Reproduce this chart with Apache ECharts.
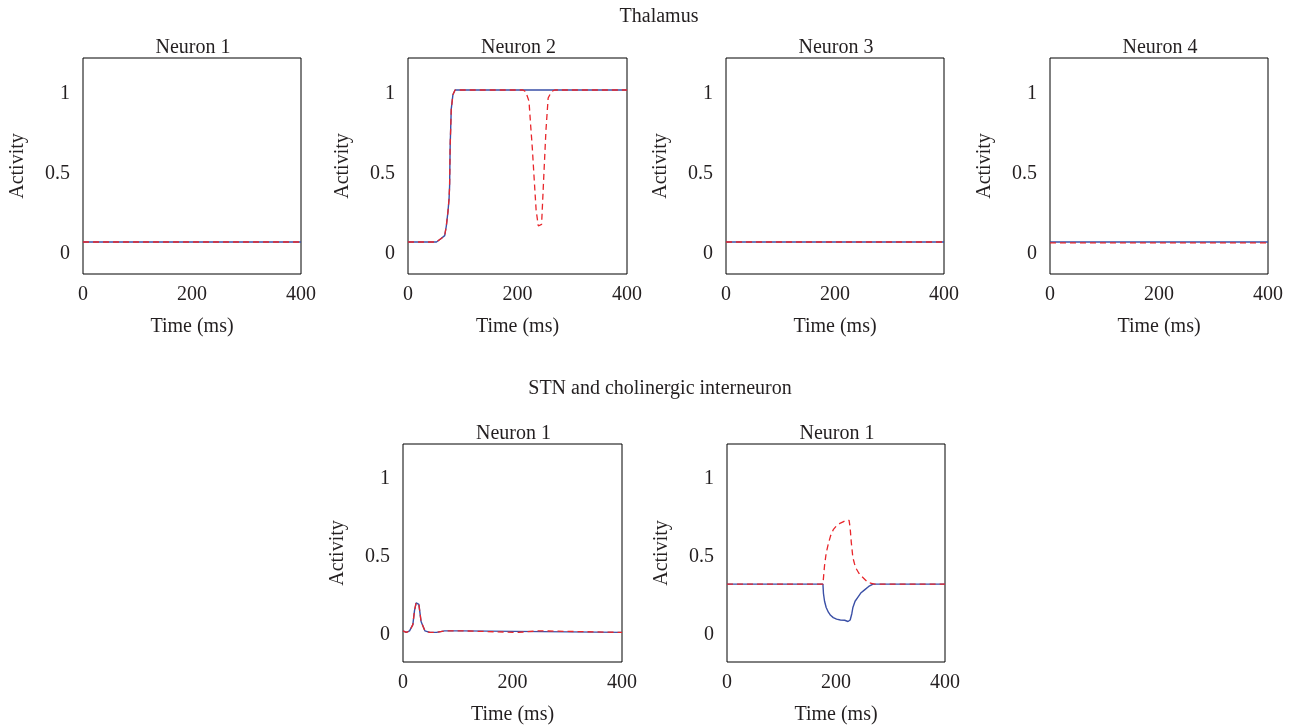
<!DOCTYPE html>
<html>
<head>
<meta charset="utf-8">
<script src="https://cdn.jsdelivr.net/npm/echarts@6/dist/echarts.min.js"></script>
<style>
  html, body { margin: 0; padding: 0; background: #fff; }
  #chart { width: 1297px; height: 727px; }
</style>
</head>
<body>
<div id="chart"></div>
<script>
// tick labels
var xTicks = [0, 200, 400];
var yTicks = [0, 0.5, 1];

// thalamus, neurons 1, 3, 4: flat
var flatTime = [0, 400];
var thal1Blue = [0.05, 0.05];
var thal1Red = [0.05, 0.05];
var thal3Blue = [0.05, 0.05];
var thal3Red = [0.05, 0.05];
var thal4Blue = [0.05, 0.05];
var thal4Red = [0.045, 0.045];

// thalamus neuron 2
var thal2BlueTime = [0, 52, 60, 67, 70, 73, 75, 76, 77, 79, 82, 86, 94, 400];
var thal2Blue = [0.05, 0.05, 0.07, 0.09, 0.15, 0.24, 0.32, 0.40, 0.65, 0.88, 0.97, 1.0, 1.0, 1.0];
var thal2RedTime = [0, 52, 60, 67, 70, 73, 75, 76, 77, 79, 82, 86, 94, 210, 215, 221, 224, 227, 230, 234, 238, 241, 244, 248, 252, 256, 262, 268, 400];
var thal2Red = [0.05, 0.05, 0.07, 0.09, 0.15, 0.24, 0.32, 0.40, 0.65, 0.88, 0.97, 1.0, 1.0, 1.0, 0.99, 0.93, 0.78, 0.64, 0.47, 0.25, 0.15, 0.14, 0.16, 0.46, 0.75, 0.95, 0.99, 1.0, 1.0];

// STN
var stnBlueTime = [0, 6, 12, 18, 21, 24, 26, 29, 33, 40, 49, 61, 76, 90, 107, 110, 400];
var stnBlue = [0, -0.01, 0, 0.04, 0.13, 0.18, 0.19, 0.17, 0.06, 0, -0.01, -0.01, 0, 0, 0, -0.01, -0.01];
var stnRedTime = [0, 6, 12, 18, 21, 24, 26, 29, 33, 40, 49, 61, 76, 90, 107, 110, 210, 212, 248, 250, 400];
var stnRed = [0, -0.01, 0, 0.04, 0.13, 0.18, 0.19, 0.17, 0.06, 0, -0.01, -0.01, 0, 0, 0, -0.01, -0.01, 0.0, 0.0, -0.01, -0.01];

// cholinergic interneuron
var cholBlueTime = [0, 176, 177, 179, 182, 186, 190, 195, 201, 208, 216, 222, 226, 229, 231, 235, 240, 246, 253, 260, 268, 400];
var cholBlue = [0.3, 0.3, 0.24, 0.19, 0.15, 0.12, 0.10, 0.085, 0.075, 0.07, 0.068, 0.06, 0.07, 0.11, 0.15, 0.19, 0.215, 0.245, 0.265, 0.285, 0.3, 0.3];
var cholRedTime = [0, 176, 179, 182, 186, 190, 195, 201, 207, 213, 219, 224, 226, 228, 231, 234, 237, 242, 247, 253, 259, 265, 271, 400];
var cholRed = [0.3, 0.3, 0.42, 0.5, 0.56, 0.61, 0.65, 0.675, 0.69, 0.70, 0.71, 0.71, 0.66, 0.57, 0.47, 0.43, 0.40, 0.37, 0.35, 0.33, 0.31, 0.305, 0.3, 0.3];

var FONT = 'Liberation Serif';
var TXT = '#231f20';
var BLUE = '#3a4fa6';
var RED = '#e8262b';

function pairs(t, v) {
    return t.map(function (x, i) { return [x, v[i]]; });
}

var panels = [
    { left: 83, top: 58, width: 218, height: 216, ymin: -0.15, title: 'Neuron 1', blue: pairs(flatTime, thal1Blue), red: pairs(flatTime, thal1Red) },
    { left: 408, top: 58, width: 219, height: 216, ymin: -0.15, title: 'Neuron 2', blue: pairs(thal2BlueTime, thal2Blue), red: pairs(thal2RedTime, thal2Red) },
    { left: 726, top: 58, width: 218, height: 216, ymin: -0.15, title: 'Neuron 3', blue: pairs(flatTime, thal3Blue), red: pairs(flatTime, thal3Red) },
    { left: 1050, top: 58, width: 218, height: 216, ymin: -0.15, title: 'Neuron 4', blue: pairs(flatTime, thal4Blue), red: pairs(flatTime, thal4Red) },
    { left: 403, top: 444, width: 219, height: 218, ymin: -0.2, title: 'Neuron 1', blue: pairs(stnBlueTime, stnBlue), red: pairs(stnRedTime, stnRed) },
    { left: 727, top: 444, width: 218, height: 218, ymin: -0.2, title: 'Neuron 1', blue: pairs(cholBlueTime, cholBlue), red: pairs(cholRedTime, cholRed) }
];

var grid = [], xAxis = [], yAxis = [], series = [];
var title = [
    { text: 'Thalamus', left: 654, top: 2, textAlign: 'center',
      textStyle: { fontFamily: FONT, fontSize: 20, fontWeight: 'normal', color: TXT } },
    { text: 'STN and cholinergic interneuron', left: 655, top: 374, textAlign: 'center',
      textStyle: { fontFamily: FONT, fontSize: 20, fontWeight: 'normal', color: TXT } }
];

panels.forEach(function (p, i) {
    grid.push({ left: p.left, top: p.top, width: p.width, height: p.height,
        show: true, borderColor: '#000', borderWidth: 1, backgroundColor: '#fff' });
    title.push({ text: p.title, left: p.left + p.width / 2 - 4, top: p.top - 25, textAlign: 'center',
        textStyle: { fontFamily: FONT, fontSize: 20, fontWeight: 'normal', color: TXT } });
    xAxis.push({
        gridIndex: i, type: 'value', min: 0, max: 400, interval: 200,
        name: 'Time (ms)', nameLocation: 'middle', nameGap: 43,
        nameTextStyle: { fontFamily: FONT, fontSize: 20, color: TXT },
        axisLine: { show: false }, axisTick: { show: false }, splitLine: { show: false },
        axisLabel: { margin: 11, fontFamily: FONT, fontSize: 20, color: TXT,
            customValues: xTicks }
    });
    yAxis.push({
        gridIndex: i, type: 'value', min: p.ymin, max: 1.2,
        name: 'Activity', nameLocation: 'middle', nameGap: 55, nameRotate: 90,
        nameTextStyle: { fontFamily: FONT, fontSize: 20, color: TXT },
        axisLine: { show: false }, axisTick: { show: false }, splitLine: { show: false },
        axisLabel: { margin: 13, fontFamily: FONT, fontSize: 20, color: TXT,
            customValues: yTicks,
            formatter: '{a|{value}}',
            rich: { a: { fontFamily: FONT, fontSize: 20, color: TXT, padding: [7, 0, 0, 0] } } }
    });
    series.push({
        type: 'line', xAxisIndex: i, yAxisIndex: i, data: p.blue,
        showSymbol: false, silent: true,
        lineStyle: { color: BLUE, width: 1.4 }
    });
    series.push({
        type: 'line', xAxisIndex: i, yAxisIndex: i, data: p.red,
        showSymbol: false, silent: true,
        lineStyle: { color: RED, width: 1.3, type: [6, 4] }
    });
});

var chart = echarts.init(document.getElementById('chart'));
chart.setOption({
    animation: false,
    backgroundColor: '#fff',
    title: title,
    grid: grid,
    xAxis: xAxis,
    yAxis: yAxis,
    series: series
});
</script>
</body>
</html>
